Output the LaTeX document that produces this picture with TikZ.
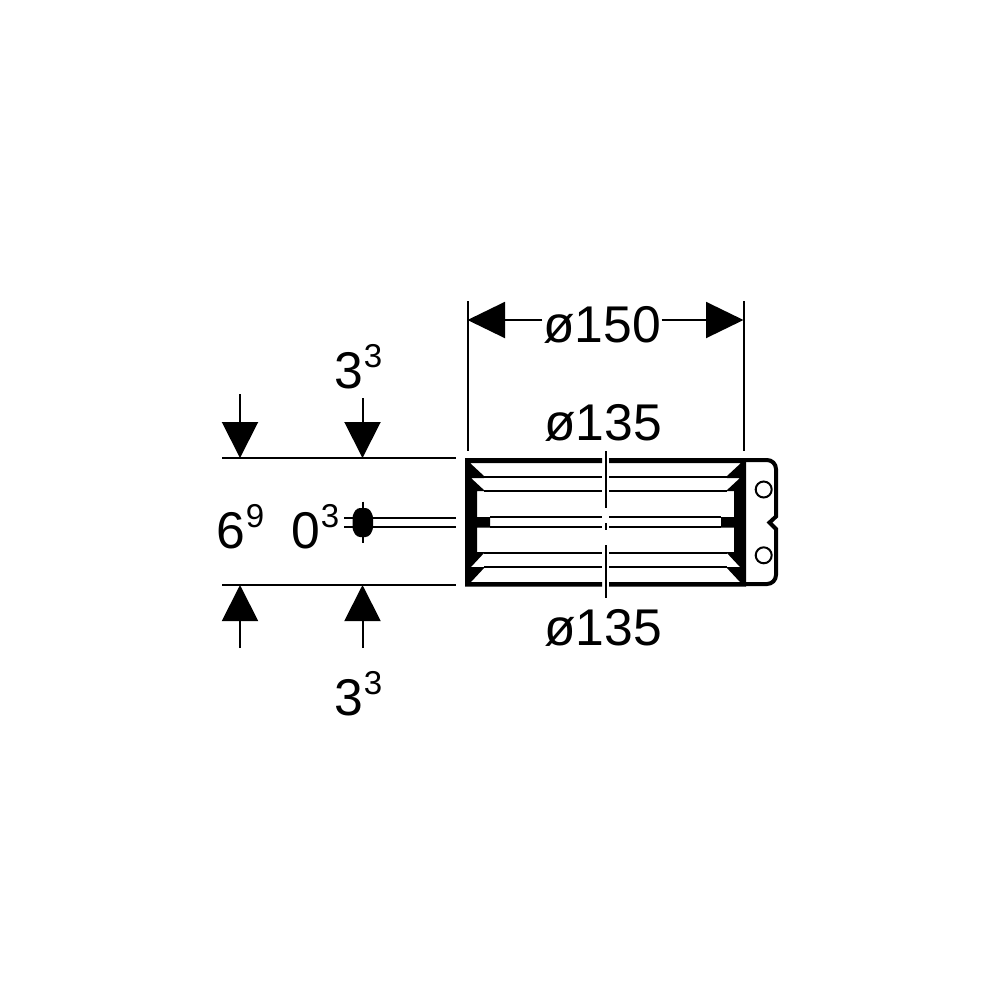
\documentclass[tikz,border=0pt]{standalone}
\usepackage{fontspec}
\setmainfont{Liberation Sans}
\usetikzlibrary{arrows.meta}
\newcommand{\supnum}[2]{#1\hspace{0.01em}\raisebox{0.4em}{\fontsize{9.4pt}{9.4pt}\selectfont #2}}
\newcommand{\halfbody}{
\fill (465,458)--(602,458)--(602,463)--(470,463)--(484,476)--(484,478)--(471,478)--(485,491)--(477,491)--(477,517)--(490,517)--(490,527.5)--(477,527.5)--(477,552)--(485,552)--(471,567)--(485,567)--(471,582)--(602,582)--(602,586.5)--(465,586.5)--cycle;
\draw [thinline] (484,476.8)--(602,476.8);
\draw [thinline] (484,491)--(602,491);
\draw [thinline] (490,517)--(602,517);
\draw [thinline] (490,527)--(602,527);
\draw [thinline] (484,552.7)--(602,552.7);
\draw [thinline] (484,567.2)--(602,567.2);
}
\tikzset{
  thinline/.style={line width=0.2mm},
  dimarrow/.style={thinline,-{Triangle[length=3.6mm,width=3.6mm]}},
  widtharrow/.style={thinline,-{Triangle[length=3.75mm,width=3.6mm]}},
  dimtext/.style={anchor=base west,inner sep=0pt,font=\fontsize{14.7pt}{14.7pt}\selectfont},
  dimlabel/.style={anchor=base,inner sep=0pt,font=\fontsize{14.7pt}{14.7pt}\selectfont}
}
\begin{document}
\begin{tikzpicture}[x=0.1mm,y=-0.1mm]
\useasboundingbox (0,0) rectangle (1000,1000);

% heights on the left
\coordinate (a1s) at (240,394);
\coordinate (a1e) at (240,458);
\coordinate (a2s) at (362.5,398);
\coordinate (a2e) at (362.5,458);
\coordinate (a3s) at (240,648);
\coordinate (a3e) at (240,585);
\coordinate (a4s) at (362.5,648);
\coordinate (a4e) at (362.5,585);
\draw [dimarrow] (a1s)--(a1e);
\draw [dimarrow] (a2s)--(a2e);
\draw [dimarrow] (a3s)--(a3e);
\draw [dimarrow] (a4s)--(a4e);
\draw [thinline] (222,458)--(456,458);
\draw [thinline] (222,585)--(456,585);
\draw [thinline] (344,517.7)--(456,517.7);
\draw [thinline] (344,526.7)--(456,526.7);
\draw [thinline] (362.5,501.5)--(362.5,543);
\fill [rounded corners=0.3mm] (352.5,515)--(357,508)--(368.5,508)--(373,515)--(373,530)--(368.5,537)--(357,537)--(352.5,530)--cycle;

\node [dimtext] (toplabel) at (334,388) {\supnum{3}{3}};
\node [dimtext] (botlabel) at (334,715) {\supnum{3}{3}};
\node [dimtext] (heightlabel) at (216,548) {\supnum{6}{9}};
\node [dimtext] (gaplabel) at (291,548) {\supnum{0}{3}};

% width on top
\node [dimlabel] (wlabel) at (602,342) {ø150};
\node [dimlabel] (dtop) at (603,440) {ø135};
\node [dimlabel] (dbot) at (603,645) {ø135};
\coordinate (wl) at (467.5,320);
\coordinate (wr) at (743.5,320);
\draw [widtharrow] (wlabel.west |- wl)--(wl);
\draw [widtharrow] (wlabel.east |- wr)--(wr);
\draw [thinline] (467.5,301)--(467.5,451);
\draw [thinline] (743.5,301)--(743.5,451);

% seal body
\halfbody
\begin{scope}[shift={(1211,0)},xscale=-1]
\halfbody
\end{scope}
\draw [thinline] (605.5,451)--(605.5,508);
\draw [thinline] (605.5,523)--(605.5,530);
\draw [thinline] (605.5,545)--(605.5,598);

% cap on the right
\draw [line width=0.4mm] (745,460) [rounded corners=0.9mm] --(776,460) [sharp corners] --(776,516.5)--(769.5,522.5)--(776,529) [rounded corners=0.9mm] --(776,584)--(745,584);
\draw [thinline] (763.7,489.5) circle [radius=8];
\draw [thinline] (763.7,555.3) circle [radius=8];
\end{tikzpicture}
\end{document}
